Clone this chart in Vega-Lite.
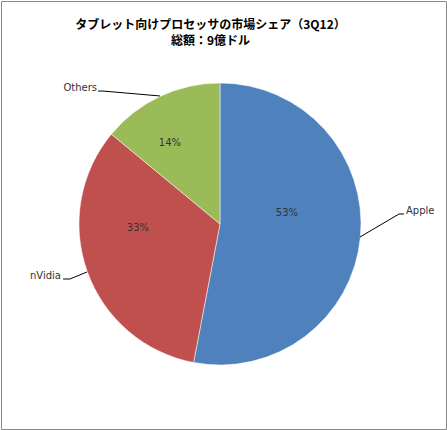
{
  "$schema": "https://vega.github.io/schema/vega-lite/v6.json",
  "width": 445,
  "height": 428,
  "padding": {"left": 1, "top": 1, "right": 1, "bottom": 1},
  "autosize": {"type": "none"},
  "background": "white",
  "title": {
    "text": ["タブレット向けプロセッサの市場シェア（3Q12）", "総額：9億ドル"],
    "font": "Noto Sans CJK JP",
    "fontSize": 12,
    "fontWeight": "bold",
    "color": "black",
    "anchor": "middle",
    "baseline": "top",
    "offset": -47,
    "dx": -13,
    "lineHeight": 16
  },
  "datasets": {
    "slices": [
      {"name": "Apple", "share": 53, "rank": 1, "pct": "53%", "px": 0.475, "py": 0.078, "nx": 1.319, "ny": 0.092, "side": "left"},
      {"name": "nVidia", "share": 33, "rank": 2, "pct": "33%", "px": -0.582, "py": -0.028, "nx": -1.128, "ny": -0.369, "side": "right"},
      {"name": "Others", "share": 14, "rank": 3, "pct": "14%", "px": -0.355, "py": 0.574, "nx": -0.872, "ny": 0.965, "side": "right"}
    ],
    "leaders": [
      {"name": "Apple", "i": 1, "x": 0.993, "y": -0.092},
      {"name": "Apple", "i": 2, "x": 1.27, "y": 0.071},
      {"name": "Apple", "i": 3, "x": 1.305, "y": 0.071},
      {"name": "nVidia", "i": 1, "x": -0.943, "y": -0.34},
      {"name": "nVidia", "i": 2, "x": -1.064, "y": -0.39},
      {"name": "nVidia", "i": 3, "x": -1.113, "y": -0.39},
      {"name": "Others", "i": 1, "x": -0.426, "y": 0.908},
      {"name": "Others", "i": 2, "x": -0.83, "y": 0.943},
      {"name": "Others", "i": 3, "x": -0.865, "y": 0.943}
    ]
  },
  "layer": [
    {
      "data": {"name": "slices"},
      "mark": {"type": "arc", "outerRadius": 141, "stroke": "white", "strokeWidth": 0.5},
      "encoding": {
        "x": {"datum": 0, "type": "quantitative", "scale": {"domain": [-1.5532, 1.6028], "nice": false, "zero": false}, "axis": null},
        "y": {"datum": 0, "type": "quantitative", "scale": {"domain": [-1.4539, 1.5816], "nice": false, "zero": false}, "axis": null},
        "theta": {"field": "share", "type": "quantitative", "stack": true},
        "order": {"field": "rank", "type": "quantitative"},
        "color": {
          "field": "name",
          "type": "nominal",
          "scale": {"domain": ["Apple", "nVidia", "Others"], "range": ["#4F81BD", "#C0504D", "#9BBB59"]},
          "legend": null
        }
      }
    },
    {
      "data": {"name": "leaders"},
      "mark": {"type": "line", "color": "black", "strokeWidth": 1},
      "encoding": {
        "x": {"field": "x", "type": "quantitative"},
        "y": {"field": "y", "type": "quantitative"},
        "detail": {"field": "name"},
        "order": {"field": "i", "type": "quantitative"}
      }
    },
    {
      "data": {"name": "slices"},
      "mark": {"type": "text", "font": "DejaVu Sans", "fontSize": 10, "color": "#333"},
      "encoding": {
        "x": {"field": "px", "type": "quantitative"},
        "y": {"field": "py", "type": "quantitative"},
        "text": {"field": "pct"}
      }
    },
    {
      "data": {"name": "slices"},
      "transform": [{"filter": "datum.side === 'left'"}],
      "mark": {"type": "text", "font": "DejaVu Sans", "fontSize": 10, "color": "#333", "align": "left"},
      "encoding": {
        "x": {"field": "nx", "type": "quantitative"},
        "y": {"field": "ny", "type": "quantitative"},
        "text": {"field": "name"}
      }
    },
    {
      "data": {"name": "slices"},
      "transform": [{"filter": "datum.side === 'right'"}],
      "mark": {"type": "text", "font": "DejaVu Sans", "fontSize": 10, "color": "#333", "align": "right"},
      "encoding": {
        "x": {"field": "nx", "type": "quantitative"},
        "y": {"field": "ny", "type": "quantitative"},
        "text": {"field": "name"}
      }
    }
  ],
  "config": {"view": {"stroke": "#898989", "strokeWidth": 1}}
}
